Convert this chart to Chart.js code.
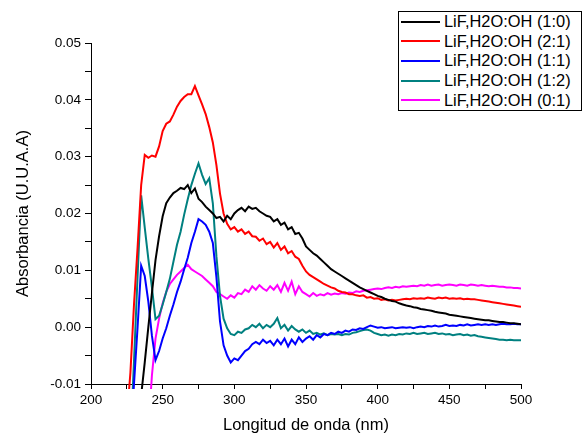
<!DOCTYPE html>
<html>
<head>
<meta charset="utf-8">
<script src="https://cdn.jsdelivr.net/npm/chart.js@4.4.1/dist/chart.umd.min.js"></script>
<style>
  body { margin: 0; background: #fff; }
  #wrap { position: relative; width: 583px; height: 437px; }
  #legend {
    position: absolute; left: 398px; top: 11px; width: 182px;
    border: 1px solid #000; background: #fff;
    font-family: "Liberation Sans", Arial, sans-serif; font-size: 16.4px;
  }
  #legend .row { display: flex; align-items: center; height: 19.6px; }
  #legend .swatch { width: 39px; height: 2px; margin: 0 4px 0 2px; }
</style>
</head>
<body>
<div id="wrap">
  <canvas id="myChart" width="583" height="437"></canvas>
  <div id="legend"></div>
</div>
<script>
// wavelength (nm), 2.5 nm steps
const wavelengths = [
  225, 227.5, 230, 232.5, 235, 237.5, 240, 242.5, 245, 247.5,
  250, 252.5, 255, 257.5, 260, 262.5, 265, 267.5, 270, 272.5,
  275, 277.5, 280, 282.5, 285, 287.5, 290, 292.5, 295, 297.5,
  300, 302.5, 305, 307.5, 310, 312.5, 315, 317.5, 320, 322.5,
  325, 327.5, 330, 332.5, 335, 337.5, 340, 342.5, 345, 347.5,
  350, 352.5, 355, 357.5, 360, 362.5, 365, 367.5, 370, 372.5,
  375, 377.5, 380, 382.5, 385, 387.5, 390, 392.5, 395, 397.5,
  400, 402.5, 405, 407.5, 410, 412.5, 415, 417.5, 420, 422.5,
  425, 427.5, 430, 432.5, 435, 437.5, 440, 442.5, 445, 447.5,
  450, 452.5, 455, 457.5, 460, 462.5, 465, 467.5, 470, 472.5,
  475, 477.5, 480, 482.5, 485, 487.5, 490, 492.5, 495, 497.5,
  500
];

const s10 = [ // LiF,H2O:OH (1:0)
  null, null, null, -0.018, -0.012, -0.0062, 0.0000, 0.0060, 0.0118, 0.0160,
  0.0195, 0.0218, 0.0228, 0.0236, 0.0240, 0.0245, 0.0243, 0.0250, 0.0236, 0.0244,
  0.0226, 0.0220, 0.0212, 0.0206, 0.0200, 0.0192, 0.0194, 0.0186, 0.0196, 0.0190,
  0.0200, 0.0206, 0.0210, 0.0204, 0.0212, 0.0208, 0.0210, 0.0204, 0.0200, 0.0196,
  0.0194, 0.0186, 0.0190, 0.0180, 0.0184, 0.0172, 0.0176, 0.0164, 0.0166, 0.0156,
  0.0142, 0.0136, 0.0130, 0.0126, 0.0120, 0.0114, 0.0108, 0.0102, 0.0098, 0.0094,
  0.0090, 0.0086, 0.0082, 0.0078, 0.0074, 0.0070, 0.0067, 0.0064, 0.0061, 0.0058,
  0.0055, 0.0053, 0.0050, 0.0048, 0.0046, 0.0045, 0.0042, 0.0040, 0.0038, 0.0037,
  0.0035, 0.0034, 0.0032, 0.0031, 0.0030, 0.0029, 0.0027, 0.0026, 0.0025, 0.0024,
  0.0022, 0.0021, 0.0020, 0.0019, 0.0018, 0.0017, 0.0016, 0.0015, 0.0014, 0.0013,
  0.0012, 0.0012, 0.0011, 0.0010, 0.0009, 0.0009, 0.0008, 0.0007, 0.0007, 0.0006,
  0.0005
];

const s21 = [ // LiF,H2O:OH (2:1)
  -0.016, -0.008, 0.004, 0.014, 0.025, 0.0303, 0.0298, 0.0302, 0.0300, 0.0318,
  0.0345, 0.0358, 0.0362, 0.0374, 0.0388, 0.0398, 0.0405, 0.0410, 0.0410, 0.0424,
  0.0408, 0.0392, 0.0375, 0.0352, 0.0325, 0.0285, 0.0235, 0.0200, 0.0182, 0.0172,
  0.0176, 0.0168, 0.0172, 0.0164, 0.0168, 0.0160, 0.0159, 0.0152, 0.0156, 0.0146,
  0.0150, 0.0140, 0.0148, 0.0136, 0.0142, 0.0130, 0.0134, 0.0124, 0.0120, 0.0108,
  0.0098, 0.0092, 0.0088, 0.0084, 0.0080, 0.0076, 0.0073, 0.0070, 0.0068, 0.0064,
  0.0062, 0.0061, 0.0058, 0.0058, 0.0056, 0.0055, 0.0056, 0.0052, 0.0053, 0.0050,
  0.0051, 0.0048, 0.0049, 0.0047, 0.0048, 0.0047, 0.0048, 0.0049, 0.0050, 0.0049,
  0.0051, 0.0050, 0.0051, 0.0050, 0.0052, 0.0051, 0.0050, 0.0052, 0.0051, 0.0052,
  0.0050, 0.0051, 0.0050, 0.0051, 0.0049, 0.0050, 0.0049, 0.0049, 0.0048, 0.0047,
  0.0046, 0.0045, 0.0044, 0.0043, 0.0042, 0.0041, 0.0040, 0.0039, 0.0038, 0.0037,
  0.0036
];

const s11 = [ // LiF,H2O:OH (1:1)
  null, -0.020, -0.010, 0.0000, 0.0108, 0.0090, 0.0045, -0.0015, -0.0058, -0.0042,
  -0.0020, -0.0002, 0.0020, 0.0040, 0.0062, 0.0080, 0.0102, 0.0122, 0.0148, 0.0168,
  0.0190, 0.0186, 0.0180, 0.0168, 0.0148, 0.0088, 0.0010, -0.0032, -0.0050, -0.0062,
  -0.0055, -0.0058, -0.0050, -0.0042, -0.0038, -0.0030, -0.0026, -0.0030, -0.0022, -0.0028,
  -0.0024, -0.0032, -0.0022, -0.0030, -0.0020, -0.0034, -0.0022, -0.0030, -0.0018, -0.0026,
  -0.0020, -0.0016, -0.0022, -0.0014, -0.0018, -0.0012, -0.0014, -0.0010, -0.0012, -0.0008,
  -0.0010, -0.0006, -0.0008, -0.0004, -0.0005, -0.0002, -0.0003, 0.0000, 0.0003, 0.0001,
  -0.0001, 0.0000, -0.0002, -0.0001, 0.0000, -0.0002, -0.0001, 0.0000, -0.0001, 0.0000,
  -0.0002, 0.0000, 0.0001, 0.0000, 0.0002, 0.0001, 0.0003, 0.0001, 0.0002, 0.0004,
  0.0002, 0.0003, 0.0002, 0.0004, 0.0003, 0.0005, 0.0003, 0.0004, 0.0005, 0.0004,
  0.0005, 0.0004, 0.0005, 0.0004, 0.0005, 0.0006, 0.0005, 0.0005, 0.0006, 0.0005,
  0.0005
];

const s12 = [ // LiF,H2O:OH (1:2)
  null, -0.020, -0.006, 0.0090, 0.0232, 0.0175, 0.0120, 0.0070, 0.0014, 0.0020,
  0.0040, 0.0062, 0.0085, 0.0115, 0.0145, 0.0168, 0.0198, 0.0225, 0.0250, 0.0270,
  0.0288, 0.0268, 0.0252, 0.0262, 0.0218, 0.0125, 0.0055, 0.0015, -0.0002, -0.0012,
  -0.0014, -0.0008, -0.0010, -0.0004, -0.0002, 0.0004, 0.0000, 0.0006, -0.0002, 0.0004,
  0.0000, 0.0006, 0.0016, -0.0002, 0.0004, -0.0006, 0.0002, -0.0004, -0.0008, -0.0004,
  -0.0010, -0.0006, -0.0012, -0.0010, -0.0013, -0.0011, -0.0014, -0.0012, -0.0013, -0.0012,
  -0.0014, -0.0012, -0.0013, -0.0010, -0.0009, -0.0007, -0.0005, -0.0004, -0.0006, -0.0010,
  -0.0012, -0.0014, -0.0013, -0.0015, -0.0013, -0.0014, -0.0012, -0.0013, -0.0011, -0.0012,
  -0.0010, -0.0012, -0.0011, -0.0010, -0.0012, -0.0011, -0.0010, -0.0012, -0.0011, -0.0013,
  -0.0012, -0.0014, -0.0013, -0.0012, -0.0014, -0.0013, -0.0015, -0.0014, -0.0016, -0.0017,
  -0.0018, -0.0019, -0.0020, -0.0021, -0.0022, -0.0022, -0.0023, -0.0022, -0.0023, -0.0023,
  -0.0023
];

const s01 = [ // LiF,H2O:OH (0:1)
  null, null, null, null, null, null, -0.018, -0.0085, -0.0020, 0.0015,
  0.0042, 0.0062, 0.0076, 0.0084, 0.0092, 0.0098, 0.0104, 0.0110, 0.0102, 0.0098,
  0.0094, 0.0090, 0.0084, 0.0078, 0.0072, 0.0062, 0.0058, 0.0054, 0.0050, 0.0056,
  0.0052, 0.0060, 0.0058, 0.0066, 0.0062, 0.0072, 0.0066, 0.0074, 0.0068, 0.0064,
  0.0072, 0.0066, 0.0074, 0.0062, 0.0078, 0.0064, 0.0080, 0.0058, 0.0072, 0.0062,
  0.0058, 0.0054, 0.0060, 0.0055, 0.0058, 0.0056, 0.0060, 0.0057, 0.0059, 0.0058,
  0.0060, 0.0059, 0.0061, 0.0060, 0.0063, 0.0062, 0.0064, 0.0065, 0.0066, 0.0067,
  0.0068, 0.0067, 0.0069, 0.0070, 0.0069, 0.0071, 0.0070, 0.0072, 0.0071, 0.0072,
  0.0073, 0.0072, 0.0074, 0.0073, 0.0075, 0.0073, 0.0074, 0.0075, 0.0073, 0.0074,
  0.0075, 0.0074, 0.0073, 0.0075, 0.0074, 0.0073, 0.0075, 0.0074, 0.0073, 0.0074,
  0.0073, 0.0072, 0.0073, 0.0072, 0.0071, 0.0071, 0.0070, 0.0070, 0.0069, 0.0069,
  0.0068
];

const seriesLabels = ['LiF,H2O:OH (1:0)', 'LiF,H2O:OH (2:1)', 'LiF,H2O:OH (1:1)', 'LiF,H2O:OH (1:2)', 'LiF,H2O:OH (0:1)'];
const seriesValues = [s10, s21, s11, s12, s01];
const seriesColors = ['#000000', '#ff0000', '#0000ff', '#008080', '#ff00ff'];

const FONT = '"Liberation Sans", Arial, sans-serif';

function toPoints(values) {
    return wavelengths.map((w, i) => ({ x: w, y: values[i] }));
}

const ctx = document.getElementById('myChart');

const chart = new Chart(ctx, {
    type: 'line',
    data: {
        datasets: seriesValues.map((vals, i) => ({
            label: seriesLabels[i],
            data: toPoints(vals),
            borderColor: seriesColors[i],
            borderWidth: 2,
            pointRadius: 0,
            tension: 0,
            fill: false,
            clip: { left: 0, right: 0, top: 0, bottom: 5 }
        }))
    },
    options: {
        responsive: false,
        animation: false,
        layout: { padding: { left: 0, right: 62, top: 43, bottom: 0 } },
        plugins: {
            legend: { display: false },
            tooltip: { enabled: false }
        },
        scales: {
            x: {
                type: 'linear',
                min: 200,
                max: 500,
                afterFit: scale => { scale.height = 53; },
                ticks: {
                    stepSize: 25,
                    autoSkip: false,
                    maxRotation: 0,
                    color: '#000',
                    padding: 3,
                    font: { family: FONT, size: 13.5 },
                    callback: v => (v % 50 === 0 ? v : '')
                },
                grid: { drawOnChartArea: false, tickLength: 5, tickColor: '#000' },
                border: { color: '#000', width: 1 },
                title: {
                    display: true,
                    text: 'Longitud de onda (nm)',
                    color: '#000',
                    font: { family: FONT, size: 16.5 },
                    padding: { top: 0, bottom: 2 }
                }
            },
            y: {
                min: -0.01,
                max: 0.05,
                afterFit: scale => { scale.width = 91; },
                ticks: {
                    stepSize: 0.005,
                    autoSkip: false,
                    color: '#000',
                    padding: 4,
                    font: { family: FONT, size: 13.5 },
                    callback: v => {
                        const r = Math.round(v * 1000);
                        return r % 10 === 0 ? (r / 1000).toFixed(2) : '';
                    }
                },
                grid: { drawOnChartArea: false, tickLength: 6, tickColor: '#000' },
                border: { color: '#000', width: 1 },
                title: {
                    display: true,
                    text: 'Absorbancia (U.U.A.A)',
                    color: '#000',
                    font: { family: FONT, size: 16.5 },
                    padding: { top: 14, bottom: 0 }
                }
            }
        }
    }
});

// legend box in the top right corner
const legend = document.getElementById('legend');
chart.data.datasets.forEach(ds => {
    const row = document.createElement('div');
    row.className = 'row';
    const sw = document.createElement('span');
    sw.className = 'swatch';
    sw.style.background = ds.borderColor;
    const txt = document.createElement('span');
    txt.textContent = ds.label;
    row.appendChild(sw);
    row.appendChild(txt);
    legend.appendChild(row);
});
</script>
</body>
</html>
